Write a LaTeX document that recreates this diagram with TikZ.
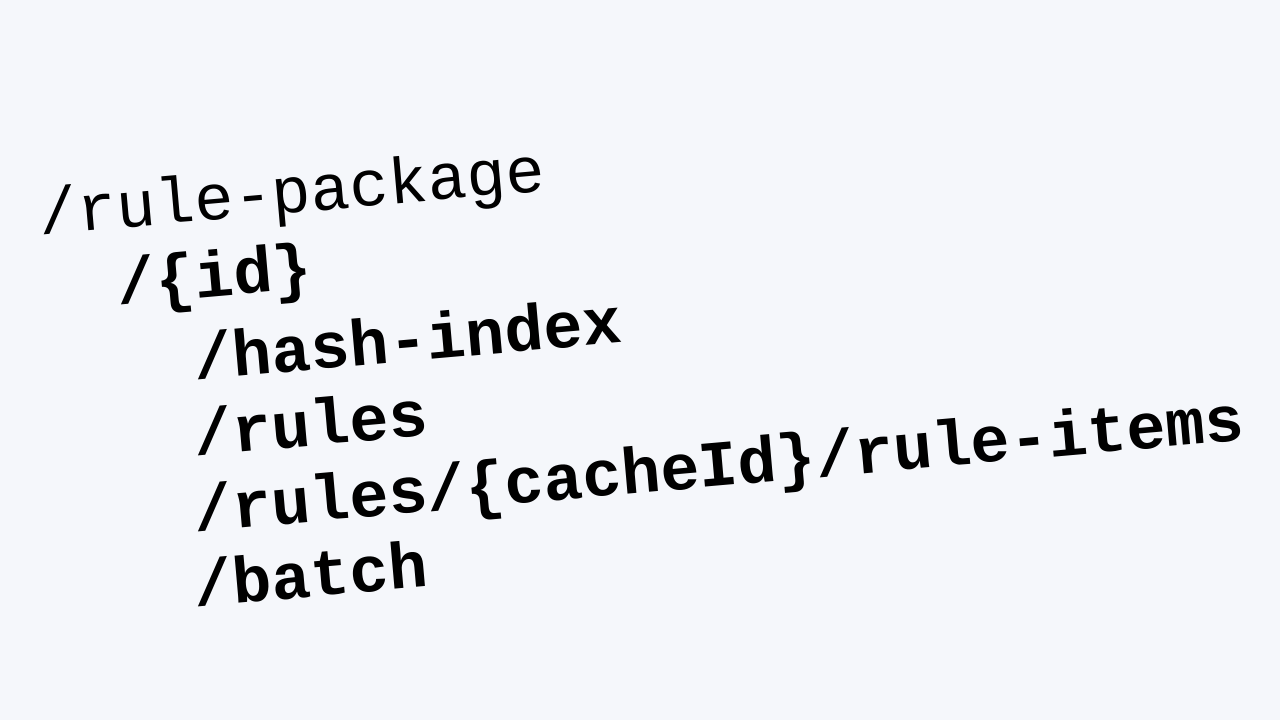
\documentclass[tikz,border=0pt]{standalone}
\usepackage{fontspec}
\setmonofont{Liberation Mono}
\definecolor{bgpaper}{HTML}{F5F7FB}
\tikzset{
  path/.style={font=\ttfamily\fontsize{18.5}{20}\selectfont\bfseries, anchor=base west, inner sep=0pt, rotate=5},
  root/.style={path, font=\ttfamily\fontsize{18.5}{20}\selectfont}
}
\begin{document}
\begin{tikzpicture}[x=0.1mm, y=-0.1mm]
    \fill[bgpaper] (0,0) rectangle (1280,720);
    \useasboundingbox (0,0) rectangle (1280,720);

    % route tree
    \node[root] (pkg) at (40,235) {/rule-package};
    \node[path] (id) at (118,305) {/\{id\}};
    \node[path] (hash) at (195,380) {/hash-index};
    \node[path] (rules) at (195,456) {/rules};
    \node[path] (items) at (195,532) {/rules/\{cacheId\}/rule-items};
    \node[path] (batch) at (195,607) {/batch};
\end{tikzpicture}
\end{document}
